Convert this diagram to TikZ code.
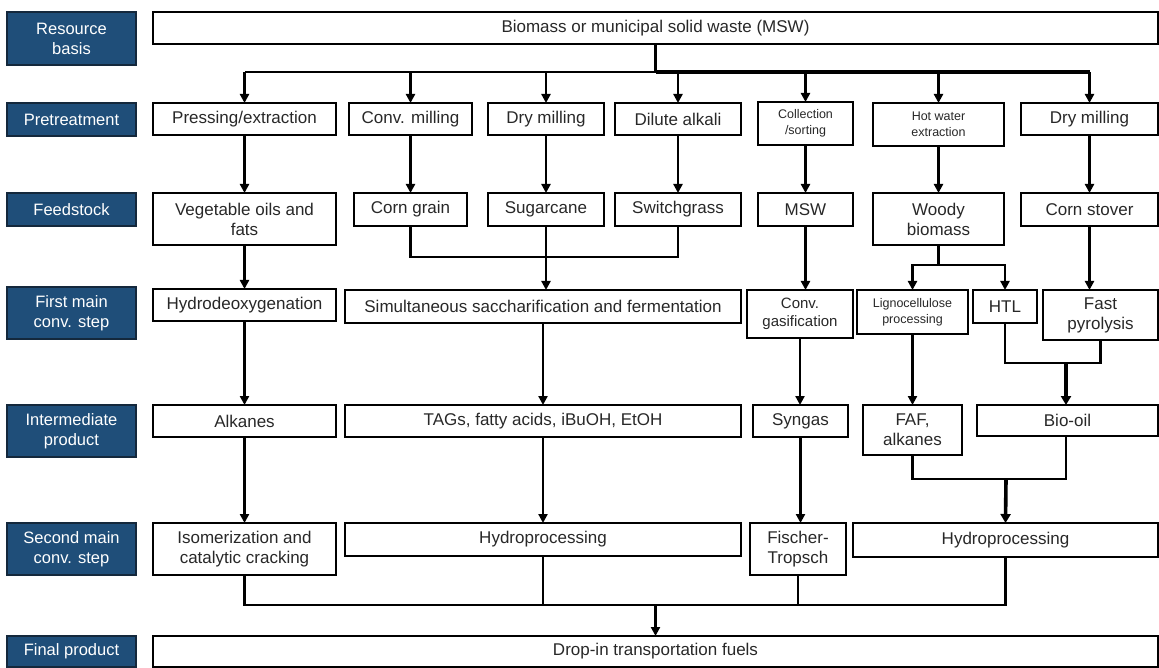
\documentclass[tikz,border=0pt]{standalone}
\usepackage{fontspec}
\setmainfont{Liberation Sans}
\usetikzlibrary{arrows.meta}
\definecolor{navy}{RGB}{31,78,121}
\definecolor{navyedge}{RGB}{20,40,60}
\definecolor{txt}{RGB}{40,40,40}
\tikzset{
  box/.style={draw, line width=1.2pt, fill=white, text=txt, align=center, inner sep=0pt, outer sep=0pt, font=\fontsize{17}{20}\selectfont},
  small/.style={font=\fontsize{12.5}{16}\selectfont},
  mid/.style={font=\fontsize{15}{18}\selectfont},
  lab/.style={draw=navyedge, line width=1.2pt, fill=navy, text=white, align=center, inner sep=0pt, outer sep=0pt, minimum width=129pt, font=\fontsize{16.5}{20}\selectfont},
  conn/.style={line width=2.6pt},
  thick conn/.style={line width=3.6pt},
  arr/.style={line width=2.6pt, -{Triangle[length=9pt,width=9pt]}},
  thick arr/.style={line width=3.6pt, -{Triangle[length=9pt,width=10pt]}},
}
\begin{document}
\begin{tikzpicture}[x=1pt,y=-1pt]
\useasboundingbox (0,0) rectangle (1159,668);
% left labels
\node[lab, minimum height=53pt] (l1) at (71.5,38.5) {Resource\\basis};
\node[lab, minimum height=33pt] (l2) at (71.5,119.5) {Pretreatment};
\node[lab, minimum height=33pt] (l3) at (71.5,209.5) {Feedstock};
\node[lab, minimum height=52pt] (l4) at (71.5,313) {First main\\conv. step};
\node[lab, minimum height=52pt] (l5) at (71.5,431) {Intermediate\\product};
\node[lab, minimum height=52pt] (l6) at (71.5,549) {Second main\\conv. step};
\node[lab, minimum height=31pt] (l7) at (71.5,651.5) {Final product};
% resource
\node[box, minimum width=1005pt, minimum height=32pt] (top) at (655.5,28) {Biomass or municipal solid waste (MSW)};
% pretreatment
\node[box, minimum width=183pt, minimum height=32pt] (pe) at (244.5,119) {Pressing/extraction};
\node[box, minimum width=123pt, minimum height=32pt] (cm) at (410.5,119) {Conv. milling};
\node[box, minimum width=116pt, minimum height=32pt] (dm) at (546,119) {Dry milling};
\node[box, minimum width=126pt, minimum height=32pt] (da) at (678,119) {Dilute alkali};
\node[box, small, minimum width=95pt, minimum height=43pt] (cs) at (805.5,123.5) {Collection\\/sorting};
\node[box, small, minimum width=131pt, minimum height=43pt] (hw) at (938.5,124.5) {Hot water\\extraction};
\node[box, minimum width=137pt, minimum height=32pt] (dm2) at (1089.5,119) {Dry milling};
% feedstock
\node[box, minimum width=183pt, minimum height=52pt] (vo) at (244.5,219) {Vegetable oils and\\fats};
\node[box, minimum width=113pt, minimum height=33pt] (cg) at (410.5,209.5) {Corn grain};
\node[box, minimum width=116pt, minimum height=33pt] (sc) at (546,209.5) {Sugarcane};
\node[box, minimum width=126pt, minimum height=33pt] (sg) at (678,209.5) {Switchgrass};
\node[box, minimum width=95pt, minimum height=33pt] (msw) at (805.5,209.5) {MSW};
\node[box, minimum width=131pt, minimum height=52pt] (wb) at (938.5,219) {Woody\\biomass};
\node[box, minimum width=137pt, minimum height=33pt] (cs2) at (1089.5,209.5) {Corn stover};
% first main conv step
\node[box, minimum width=183pt, minimum height=32pt] (hdo) at (244.5,305) {Hydrodeoxygenation};
\node[box, minimum width=396pt, minimum height=33pt] (ssf) at (543,306.5) {Simultaneous saccharification and fermentation};
\node[box, mid, minimum width=106pt, minimum height=48pt] (gas) at (800,314) {Conv.\\gasification};
\node[box, small, minimum width=111pt, minimum height=44pt] (lig) at (912.5,312) {Lignocellulose\\processing};
\node[box, minimum width=64pt, minimum height=33pt] (htl) at (1005,306.5) {HTL};
\node[box, minimum width=115pt, minimum height=50pt] (fp) at (1100.5,315) {Fast\\pyrolysis};
% intermediate
\node[box, minimum width=183pt, minimum height=32pt] (alk) at (244.5,421) {Alkanes};
\node[box, minimum width=396pt, minimum height=32pt] (tags) at (543,421) {TAGs, fatty acids, iBuOH, EtOH};
\node[box, minimum width=95pt, minimum height=32pt] (syn) at (800.5,421) {Syngas};
\node[box, minimum width=99pt, minimum height=50pt] (faf) at (912.5,430) {FAF,\\alkanes};
\node[box, minimum width=181pt, minimum height=31pt] (bio) at (1067.5,420.5) {Bio-oil};
% second main conv step
\node[box, minimum width=183pt, minimum height=52pt] (iso) at (244.5,549) {Isomerization and\\catalytic cracking};
\node[box, minimum width=396pt, minimum height=33pt] (hp1) at (543,539.5) {Hydroprocessing};
\node[box, minimum width=96pt, minimum height=52pt] (ft) at (798,549) {Fischer-\\Tropsch};
\node[box, minimum width=305pt, minimum height=34pt] (hp2) at (1005.5,540) {Hydroprocessing};
% final
\node[box, minimum width=1005pt, minimum height=31pt] (fin) at (655.5,651.5) {Drop-in transportation fuels};
% junction coordinates
\coordinate (j0) at (655.5,72);
\coordinate (j1) at (546,257);
\coordinate (j2) at (938.5,265);
\coordinate (j3) at (1066,363);
\coordinate (j4) at (1006,479);
\coordinate (j5) at (655.5,605);
% top branching
\draw[thick conn] (top.south) -- (j0);
\draw[conn] (j0) -- (j0 -| pe.north);
\draw[thick conn] (j0) -- (j0 -| dm2.north);
\draw[arr] (j0 -| pe.north) -- (pe.north);
\draw[arr] (j0 -| cm.north) -- (cm.north);
\draw[arr] (j0 -| dm.north) -- (dm.north);
\draw[arr] (j0 -| da.north) -- (da.north);
\draw[arr] (j0 -| cs.north) -- (cs.north);
\draw[arr] (j0 -| hw.north) -- (hw.north);
\draw[arr] (j0 -| dm2.north) -- (dm2.north);
% pretreatment -> feedstock
\draw[arr] (pe.south) -- (pe.south |- vo.north);
\draw[arr] (cm.south) -- (cm.south |- cg.north);
\draw[arr] (dm.south) -- (dm.south |- sc.north);
\draw[arr] (da.south) -- (da.south |- sg.north);
\draw[arr] (cs.south) -- (cs.south |- msw.north);
\draw[arr] (hw.south) -- (hw.south |- wb.north);
\draw[arr] (dm2.south) -- (dm2.south |- cs2.north);
% feedstock -> first step
\draw[arr] (vo.south) -- (vo.south |- hdo.north);
\draw[conn] (cg.south) -- (cg.south |- j1) -- (sg.south |- j1) -- (sg.south);
\draw[conn] (sc.south) -- (j1);
\draw[arr] (j1) -- (j1 |- ssf.north);
\draw[arr] (msw.south) -- (msw.south |- gas.north);
\draw[thick conn] (wb.south) -- (j2);
\draw[arr] (j2) -| (lig.north);
\draw[arr] (j2) -| (htl.north);
\draw[arr] (cs2.south) -- (cs2.south |- fp.north);
% first step -> intermediate
\draw[arr] (hdo.south) -- (hdo.south |- alk.north);
\draw[arr] (ssf.south) -- (tags.north);
\draw[arr] (gas.south) -- (gas.south |- syn.north);
\draw[arr] (lig.south) -- (lig.south |- faf.north);
\draw[conn] (htl.south) -- (htl.south |- j3) -- (fp.south |- j3) -- (fp.south);
\draw[thick arr] (j3) -- (j3 |- bio.north);
% intermediate -> second step
\draw[arr] (alk.south) -- (alk.south |- iso.north);
\draw[arr] (tags.south) -- (hp1.north);
\draw[arr] (syn.south) -- (syn.south |- ft.north);
\draw[conn] (faf.south) -- (faf.south |- j4) -- (j3 |- j4) -- (j3 |- bio.south);
\draw[thick arr] (j4) -- (hp2.north);
% second step -> final
\draw[conn] (iso.south) -- (iso.south |- j5) -- (hp2.south |- j5) -- (hp2.south);
\draw[conn] (hp1.south) -- (hp1.south |- j5);
\draw[conn] (ft.south) -- (ft.south |- j5);
\draw[arr] (j5) -- (fin.north);
\end{tikzpicture}
\end{document}
